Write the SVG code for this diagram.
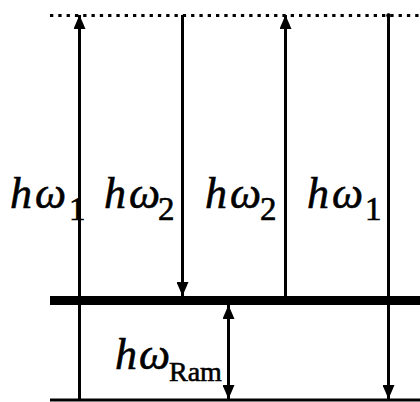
<svg xmlns="http://www.w3.org/2000/svg" width="420" height="402" viewBox="0 0 420 402">
<style>
.lvl{stroke:#000;fill:none}
.tr{stroke:#000;stroke-width:3;fill:none}
text{font-family:'Liberation Serif','Times New Roman',serif;font-size:44px;font-style:italic;fill:#000;stroke:#000;stroke-width:0.6}
.sub{font-style:normal;font-size:33px}
.subR{font-style:normal;font-size:28px}
</style>
<defs>
<marker id="ah" viewBox="0 0 14 12" refX="14" refY="6" markerWidth="14" markerHeight="12" markerUnits="userSpaceOnUse" orient="auto">
<path d="M0,0 L14,6 L0,12 Z" fill="#000"/>
</marker>
<marker id="ahs" viewBox="0 0 14 12" refX="14" refY="6" markerWidth="14" markerHeight="12" markerUnits="userSpaceOnUse" orient="auto-start-reverse">
<path d="M0,0 L14,6 L0,12 Z" fill="#000"/>
</marker>
</defs>
<g id="levels">
<line id="virtual" class="lvl" x1="50" y1="15.5" x2="420" y2="15.5" stroke-width="3" stroke-dasharray="3.3 5"/>
<line id="excited" class="lvl" x1="50" y1="300.5" x2="420" y2="300.5" stroke-width="9"/>
<line id="ground" class="lvl" x1="50" y1="400" x2="420" y2="400" stroke-width="3"/>
</g>
<g id="connectors">
<line class="tr" x1="79.5" y1="400" x2="79.5" y2="15" marker-end="url(#ah)"/>
<line class="tr" x1="182.5" y1="15" x2="182.5" y2="296" marker-end="url(#ah)"/>
<line class="tr" x1="285.5" y1="300" x2="285.5" y2="15" marker-end="url(#ah)"/>
<line class="tr" x1="388.5" y1="15" x2="388.5" y2="399" marker-end="url(#ah)" stroke-linecap="round"/>
<circle cx="388.5" cy="15.5" r="2.3" fill="#000"/>
<line class="tr" x1="228.5" y1="305" x2="228.5" y2="399" marker-start="url(#ahs)" marker-end="url(#ah)"/>
</g>
<g id="label1"><text y="208"><tspan x="10">h</tspan><tspan x="35">ω</tspan><tspan class="sub" x="69" y="220">1</tspan></text></g>
<g id="label2"><text y="208"><tspan x="104">h</tspan><tspan x="129">ω</tspan><tspan class="sub" x="158" y="220">2</tspan></text></g>
<g id="label3"><text y="208"><tspan x="205">h</tspan><tspan x="230">ω</tspan><tspan class="sub" x="260" y="220">2</tspan></text></g>
<g id="label4"><text y="208"><tspan x="307">h</tspan><tspan x="332">ω</tspan><tspan class="sub" x="365" y="220">1</tspan></text></g>
<g id="label5"><text y="369"><tspan x="115">h</tspan><tspan x="139">ω</tspan><tspan class="subR" x="169" y="381">Ram</tspan></text></g>
</svg>
